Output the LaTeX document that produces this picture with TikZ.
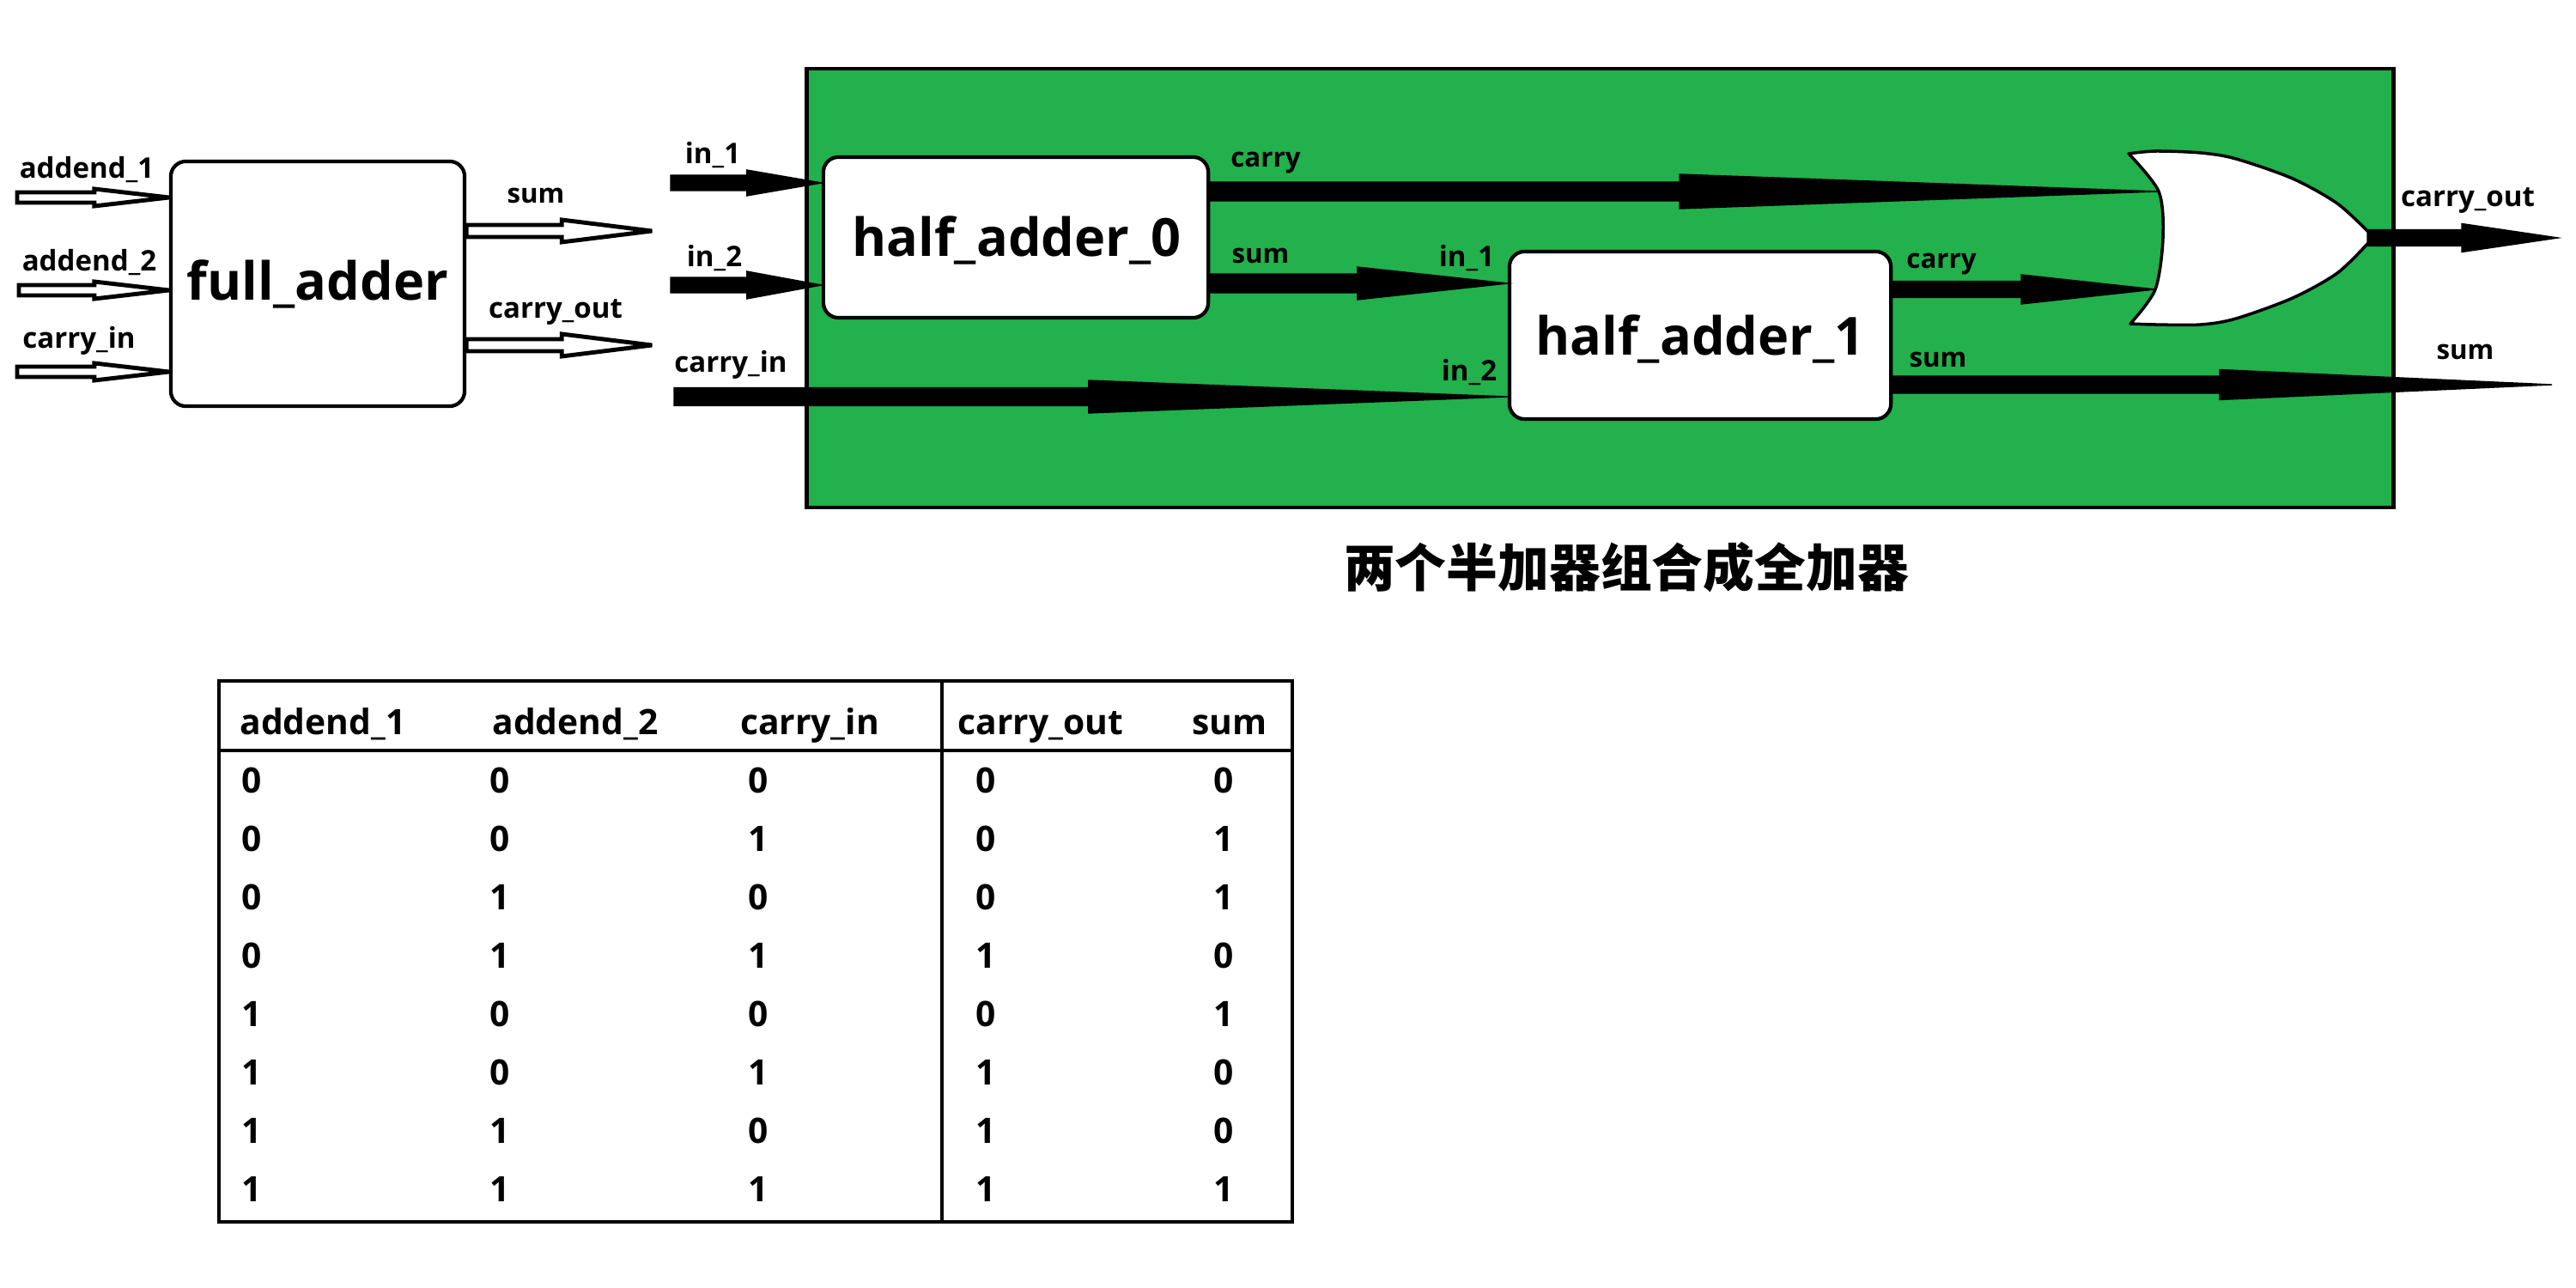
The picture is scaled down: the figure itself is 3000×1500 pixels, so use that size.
\documentclass[tikz,border=0pt]{standalone}
\usepackage{fontspec}
\setmainfont{Open Sans}
\newfontfamily\cjk{Noto Sans CJK SC}
\usetikzlibrary{positioning,calc}
\definecolor{ink}{HTML}{000000}
\definecolor{panel}{HTML}{22B14C}
\tikzset{
  blockbox/.style={draw=ink, line width=1.2pt, rounded corners=5pt, fill=white, align=center, inner sep=0pt},
  blockname/.style={anchor=base, inner sep=0pt, text=ink, font=\fontsize{17.4}{20}\selectfont\bfseries},
  lbl/.style={anchor=base, inner sep=0pt, text=ink, font=\fontsize{9.4}{11}\selectfont\bfseries},
  thin lbl/.style={lbl, font=\fontsize{8.9}{10}\selectfont\bfseries},
  cell/.style={anchor=base, inner sep=0pt, text=ink, font=\fontsize{11.6}{14}\selectfont\bfseries},
  grid line/.style={draw=ink, line width=1.2pt},
  % ---- arrows: head length, head half width, shaft half width ----
  barrow/.style n args={3}{
    to path={($(\tikztostart)+(0,#3)$) -- ($(\tikztostart)+(0,-#3)$)
      -- ($(\tikztotarget)+(-#1,-#3)$) -- ($(\tikztotarget)+(-#1,-#2)$)
      -- (\tikztotarget) -- ($(\tikztotarget)+(-#1,#2)$)
      -- ($(\tikztotarget)+(-#1,#3)$) -- cycle}},
  wire/.style n args={3}{barrow={#1}{#2}{#3}, fill=ink},
  hollow/.style n args={3}{barrow={#1}{#2}{#3}, draw=ink, fill=white, line width=1.4pt, miter limit=3},
  hollowin/.style={hollow={87}{10}{6}},
  hollowout/.style={hollow={105}{13}{7}},
  orgate/.style={draw=ink, fill=white, line width=1pt, line join=round},
}
\begin{document}
\begin{tikzpicture}[x=0.01cm,y=-0.01cm]
\useasboundingbox (0,0) rectangle (3000,1500);
% ---- full adder symbol ----
\coordinate (a1) at (20,230);
\coordinate (a2) at (22,338);
\coordinate (ci) at (20,433);
\node[blockbox, minimum width=3.42cm, minimum height=2.85cm] (fa) at (370,330.5) {};
\node[blockname] (faname) at (370,349) {full\_adder};
\coordinate (so) at ($(fa.east)+(216,-61.5)$);
\coordinate (co) at ($(fa.east)+(216,71.5)$);
\draw[hollowin] (a1) to ($(fa.west)+(0,-100.5)$);
\draw[hollowin] (a2) to ($(fa.west)+(0,7.5)$);
\draw[hollowin] (ci) to ($(fa.west)+(0,102.5)$);
\draw[hollowout] ($(fa.east)+(0,-61.5)$) to (so);
\draw[hollowout] ($(fa.east)+(0,71.5)$) to (co);
\node[lbl] (la1) at (101,208) {addend\_1};
\node[lbl] (la2) at (104,315) {addend\_2};
\node[lbl] (lci) at (92,405) {carry\_in};
\node[thin lbl] (lso) at (624,237) {sum};
\node[lbl] (lco) at (647,370) {carry\_out};
% ---- green panel ----
\node[draw=ink, line width=1.2pt, fill=panel, minimum width=18.47cm, minimum height=5.11cm, inner sep=0pt] (panel) at (1863.5,335.5) {};
\node[blockbox, minimum width=4.48cm, minimum height=1.87cm] (ha0) at (1183,276.5) {};
\node[blockbox, minimum width=4.44cm, minimum height=1.95cm] (ha1) at (1980,390.5) {};
\node[blockname] (ha0name) at (1184,298) {half\_adder\_0};
\node[blockname] (ha1name) at (1980,413) {half\_adder\_1};
% ---- or gate ----
\coordinate (ora) at (2513,223);
\coordinate (orb) at (2510,337);
\coordinate (orc) at (2758,277);
\coordinate (in1) at (781,213);
\coordinate (in2) at (781,332);
\coordinate (cin) at (785,462);
\coordinate (out1) at (2979,277);
\coordinate (out2) at (2972,448);
% ---- wires ----
\draw[wire={87}{15}{9}] (in1) to ($(ha0.west)+(0,-63.5)$);
\draw[wire={87}{16}{9}] (in2) to ($(ha0.west)+(0,55.5)$);
\draw[wire={488}{19}{10.5}] (cin) to ($(ha1.west)+(0,71.5)$);
\draw[wire={175}{19}{11}] ($(ha0.east)+(0,53.5)$) to ($(ha1.west)+(0,-60.5)$);
\draw[wire={557}{20}{11}] ($(ha0.east)+(0,-53.5)$) to (ora);
\draw[wire={156}{17}{9.5}] ($(ha1.east)+(0,-53.5)$) to (orb);
\draw[wire={387}{17.5}{10}] ($(ha1.east)+(0,57.5)$) to (out2);
\draw[wire={112}{16.5}{9.5}] (orc) to (out1);
\draw[orgate] plot[smooth, tension=0.5] coordinates {(2479,179) (2510,176) (2563,178) (2604,185) (2670,208) (2722,237) (2758,270)}
  -- (2758,283)
  -- plot[smooth, tension=0.5] coordinates {(2758,283) (2722,318) (2670,347) (2604,371) (2563,378) (2510,378) (2481,377)}
  -- plot[smooth, tension=0.5] coordinates {(2481,377) (2510,337) (2519,277) (2514,223) (2479,179)} -- cycle;
% ---- panel labels ----
\node[lbl] (lin1) at (830,191) {in\_1};
\node[lbl] (lin2) at (832,310) {in\_2};
\node[lbl] (lcin) at (851,433) {carry\_in};
\node[thin lbl] (l0c) at (1474,195) {carry};
\node[thin lbl] (l0s) at (1468,307) {sum};
\node[lbl] (l1a) at (1708,310) {in\_1};
\node[lbl] (l1b) at (1711,443) {in\_2};
\node[thin lbl] (l1c) at (2261,312) {carry};
\node[thin lbl] (l1s) at (2257,427) {sum};
\node[lbl] (lout1) at (2874,241) {carry\_out};
\node[thin lbl] (lout2) at (2871,418) {sum};
\node[anchor=base, inner sep=0pt, font=\cjk\fontsize{17}{20}\selectfont\bfseries] (title) at (1894,683) {两个半加器组合成全加器};
% ---- truth table ----
\draw[grid line] (255,793) rectangle (1505,1423);
\draw[grid line] (255,874) -- (1505,874);
\draw[grid line, line width=1pt] (1097,793) -- (1097,1423);
\foreach \x/\name/\txt in {376/h1/addend\_1, 670/h2/addend\_2, 943/h3/carry\_in, 1212/h4/carry\_out, 1432/h5/sum}{
   \node[cell] (\name) at (\x,855) {\txt};
}
\foreach \r/\a/\b/\c/\d/\e in {0/0/0/0/0/0, 1/0/0/1/0/1, 2/0/1/0/0/1, 3/0/1/1/1/0, 4/1/0/0/0/1, 5/1/0/1/1/0, 6/1/1/0/1/0, 7/1/1/1/1/1}{
   \node[cell] (a\r) at (293,{923+68*\r}) {\a};
   \node[cell] (b\r) at (582,{923+68*\r}) {\b};
   \node[cell] (c\r) at (883,{923+68*\r}) {\c};
   \node[cell] (d\r) at (1148,{923+68*\r}) {\d};
   \node[cell] (e\r) at (1425,{923+68*\r}) {\e};
}
\end{tikzpicture}
\end{document}
